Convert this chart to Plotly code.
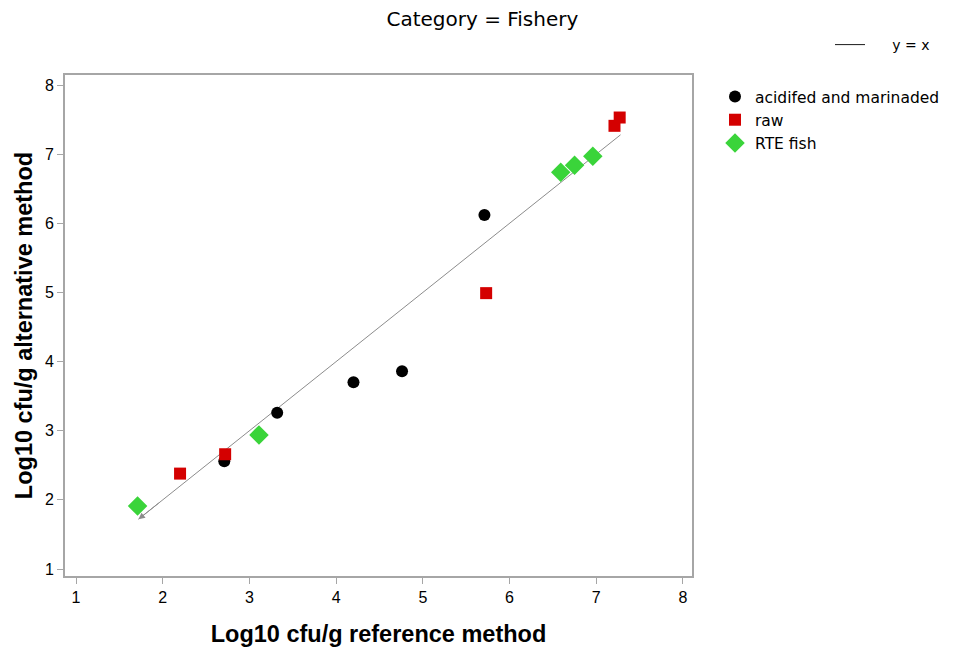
import plotly.graph_objects as go

# Log10 cfu/g counts: reference method (x) vs alternative method (y)
acid_x = [2.71, 3.32, 4.20, 4.76, 5.71]
acid_y = [2.56, 3.26, 3.70, 3.86, 6.12]

raw_x = [2.20, 2.72, 5.73, 7.21, 7.27]
raw_y = [2.38, 2.66, 4.99, 7.41, 7.53]

rte_x = [1.71, 3.11, 6.59, 6.75, 6.96]
rte_y = [1.91, 2.94, 6.74, 6.84, 6.97]

# identity line extent
line_x = [1.72, 7.28]
line_y = [1.72, 7.28]

tick_vals = [1, 2, 3, 4, 5, 6, 7, 8]

AXIS_FONT = "Liberation Sans, Arial, sans-serif"
TICK_FONT = "Liberation Sans, Arial, sans-serif"
LEG_FONT = "DejaVu Sans, Verdana, sans-serif"
GREY = "#a6a6a6"
NBSP = "\u00a0"

fig = go.Figure()

# identity line in the plot area
fig.add_trace(go.Scatter(
    x=line_x, y=line_y, mode="lines", name="y = x",
    line=dict(color="#8c8c8c", width=1), showlegend=False,
))
# darker sample for the separate "y = x" legend
fig.add_trace(go.Scatter(
    x=[None], y=[None], mode="lines", name=NBSP * 5 + "y = x",
    line=dict(color="#1a1a1a", width=1), legend="legend2",
    showlegend=True, hoverinfo="skip",
))

fig.add_trace(go.Scatter(
    x=acid_x, y=acid_y, mode="markers", name="acidifed and marinaded",
    marker=dict(symbol="circle", size=12, color="#000000"),
))
fig.add_trace(go.Scatter(
    x=raw_x, y=raw_y, mode="markers", name="raw",
    marker=dict(symbol="square", size=12, color="#d40000"),
))
fig.add_trace(go.Scatter(
    x=rte_x, y=rte_y, mode="markers", name="RTE fish",
    marker=dict(symbol="diamond", size=15, color="#3ad43a"),
))

# small arrowhead at the lower end of the identity line
fig.add_annotation(
    x=line_x[0], y=line_y[0], ax=line_x[0] + 0.25, ay=line_y[0] + 0.25,
    xref="x", yref="y", axref="x", ayref="y",
    text="", showarrow=True, arrowhead=2, arrowsize=1.3, arrowwidth=1,
    arrowcolor="#8c8c8c",
)

axis_common = dict(
    showgrid=False, zeroline=False,
    showline=True, mirror=True, linecolor=GREY, linewidth=2,
    ticks="outside", ticklen=6, tickcolor=GREY, tickwidth=1,
    tickvals=tick_vals,
    tickfont=dict(family=TICK_FONT, size=16, color="#000000"),
)

fig.update_layout(
    width=959, height=652,
    margin=dict(l=65, r=267, t=75, b=76, autoexpand=False),
    paper_bgcolor="white", plot_bgcolor="white",
    title=dict(
        text="Category = Fishery", x=0.503, xref="container", xanchor="center",
        y=1 - 19 / 652, yref="container", yanchor="middle",
        font=dict(family=LEG_FONT, size=20, color="#000000"),
    ),
    xaxis=dict(
        range=[0.873, 8.104],
        title=dict(text="<b>Log10 cfu/g reference method</b>", standoff=20,
                   font=dict(family=AXIS_FONT, size=23.5, color="#000000")),
        **axis_common,
    ),
    yaxis=dict(
        range=[0.899, 8.145],
        title=dict(text="<b>Log10 cfu/g alternative method</b>", standoff=6,
                   font=dict(family=AXIS_FONT, size=23.5, color="#000000")),
        **axis_common,
    ),
    legend=dict(
        x=715 / 959, xref="container", xanchor="left",
        y=1 - 80 / 652, yref="container", yanchor="top",
        font=dict(family=LEG_FONT, size=15.5, color="#000000"),
        bgcolor="rgba(0,0,0,0)", tracegroupgap=0,
    ),
    legend2=dict(
        x=830 / 959, xref="container", xanchor="left",
        y=1 - 45 / 652, yref="container", yanchor="middle",
        font=dict(family=LEG_FONT, size=14, color="#000000"),
        bgcolor="rgba(0,0,0,0)",
    ),
)

fig.write_html("out.html")
